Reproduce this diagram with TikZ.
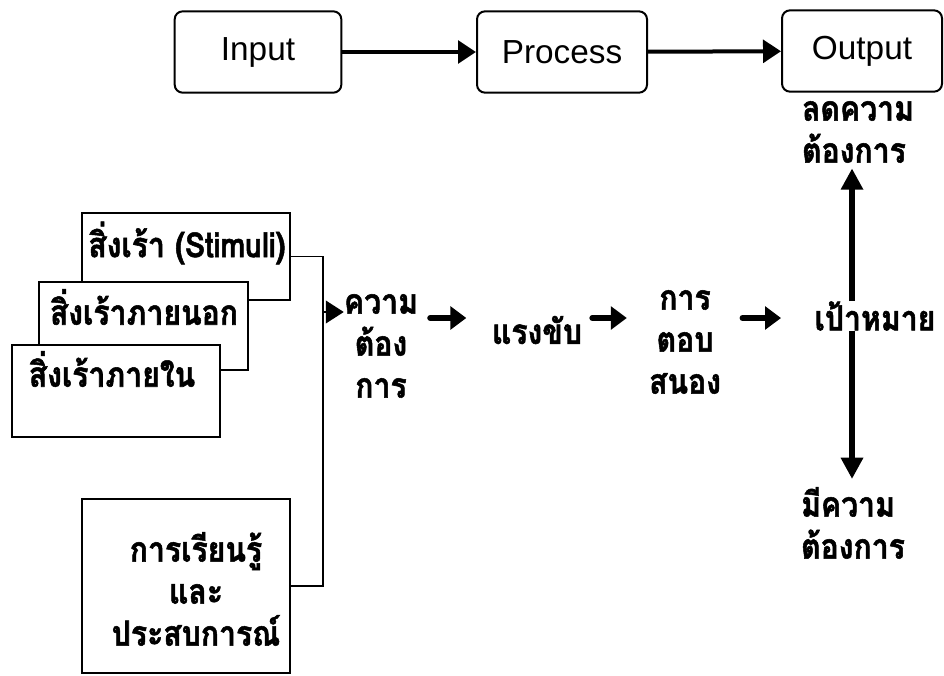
\documentclass[tikz,border=0pt]{standalone}
\usepackage{fontspec}
\setmainfont{Liberation Sans}
\newfontfamily\thaifont[Script=Thai, FakeStretch=0.87, BoldFeatures={FakeBold=1.5}]{Loma}
\usetikzlibrary{arrows.meta}
\begin{document}
\begin{tikzpicture}[x=0.75pt,y=-0.75pt,
  topbox/.style={draw, line width=1.5pt, rounded corners=6pt, minimum height=61pt, inner sep=0pt,
    font=\fontsize{25}{30}\selectfont},
  stimbox/.style={draw, line width=1.4pt, fill=white, inner sep=0pt},
  th/.style={font=\thaifont\bfseries\fontsize{26}{31.5}\selectfont, align=center, inner sep=0pt},
  conn/.style={line width=1.4pt},
  bigarrow/.style={line width=3pt, -{Triangle[length=13.5pt,width=17pt]}},
  fatarrow/.style={line width=4.5pt, line cap=round, -{Triangle[length=12pt,width=17pt]}},
  vertarrow/.style={line width=4pt, -{Triangle[length=16pt,width=16pt]}},
  headonly/.style={line width=1.4pt, -{Triangle[length=13.5pt,width=17pt]}}
]
\useasboundingbox (0,0) rectangle (944,675);

% top row
\node[topbox, minimum width=125pt] (in) at (258,52) {Input};
\node[topbox, minimum width=127.5pt] (proc) at (562,52) {Process};
\node[topbox, minimum width=120pt] (out) at (862,51) {Output};
\draw[bigarrow] (in) -- (proc);
\draw[bigarrow] (proc) -- (out);

% stacked stimulus boxes
\node[stimbox, minimum width=156pt, minimum height=65.25pt] (stim) at (186,256.5) {};
\node[th] (stimt) at (187,243) {สิ่งเร้า (Stimuli)};
\node[stimbox, minimum width=156.75pt, minimum height=66pt] (ext) at (143.5,326) {};
\node[th] (extt) at (144,307) {สิ่งเร้าภายนอก};
\node[stimbox, minimum width=156pt, minimum height=69pt] (int) at (116,391) {};
\node[th] (intt) at (112,369) {สิ่งเร้าภายใน};
\node[stimbox, minimum width=156pt, minimum height=130.5pt] (learn) at (186,586) {};
\node[th] (learnt) at (196,589) {การเรียนรู้\\และ\\ประสบการณ์};

% collector line
\coordinate (jt) at (323,256.5);
\coordinate (jb) at (323,586);
\coordinate (ja) at (323,312);
\draw[conn] (stim.east) -- (jt) -- (jb) -- (learn.east);

% middle row
\coordinate (row) at (0,318);
\node[th] (need) at (381,346) {ความ\\ต้อง\\การ};
\node[th] (drive) at (537,330) {แรงขับ};
\node[th] (resp) at (685,342) {การ\\ตอบ\\สนอง};
\node[th] (goal) at (875,316) {เป้าหมาย};
\node[th, align=left] (less) at (858,132) {ลดความ\\ต้องการ};
\node[th, align=left] (more) at (853,523) {มีความ\\ต้องการ};

\draw[headonly] (ja) -- (need.west |- ja);
\draw[fatarrow, shorten <=9pt, shorten >=19pt] (need.east |- row) -- (drive.west |- row);
\draw[fatarrow, shorten <=7.5pt, shorten >=16.5pt] (drive.east |- row) -- (resp.west |- row);
\draw[fatarrow, shorten <=16pt, shorten >=25pt] (resp.east |- row) -- (goal.west |- row);

\coordinate (vx) at (852,0);
\draw[vertarrow, shorten >=4pt] (goal.north -| vx) -- (less.south -| vx);
\draw[vertarrow, shorten >=6pt] (goal.south -| vx) -- (more.north -| vx);
\end{tikzpicture}
\end{document}
